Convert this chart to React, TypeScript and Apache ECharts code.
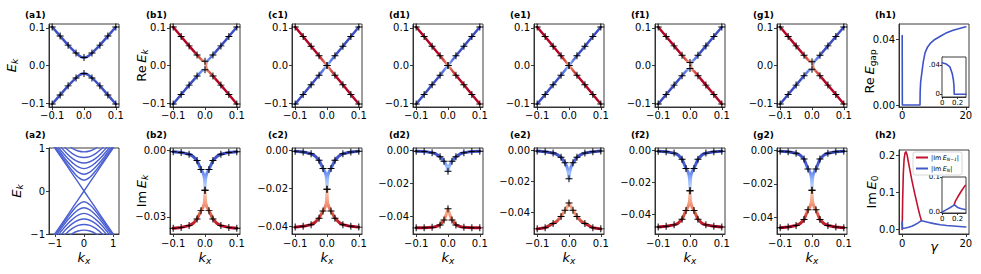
import React, { useEffect, useRef } from "react";
import * as echarts from "echarts";

// ---------------- data ----------------
const K1 = [-0.1, -0.075, -0.05, -0.025, -0.0125, -0.006, 0, 0.006, 0.0125, 0.025, 0.05, 0.075, 0.1];
const MK1 = [-0.1, -0.075, -0.05, -0.025, 0, 0.025, 0.05, 0.075, 0.1];

const A1_UP = [0.102, 0.078, 0.054, 0.033, 0.0245, 0.0218, 0.021, 0.0218, 0.0245, 0.033, 0.054, 0.078, 0.102];
const A1_DN = [-0.102, -0.078, -0.054, -0.033, -0.0245, -0.0218, -0.021, -0.0218, -0.0245, -0.033, -0.054, -0.078, -0.102];

const B1_RED = [0.102, 0.077, 0.052, 0.028, 0.0165, 0.0127, 0.011, -0.0127, -0.0165, -0.028, -0.052, -0.077, -0.102];
const B1_BLUE = [-0.102, -0.077, -0.052, -0.028, -0.0165, -0.0127, -0.011, 0.0127, 0.0165, 0.028, 0.052, 0.077, 0.102];
const C1_RED = [0.102, 0.077, 0.051, 0.026, 0.013, 0.006, 0, -0.006, -0.013, -0.026, -0.051, -0.077, -0.102];
const C1_BLUE = [-0.102, -0.077, -0.051, -0.026, -0.013, -0.006, 0, 0.006, 0.013, 0.026, 0.051, 0.077, 0.102];
const D1_RED = [0.102, 0.077, 0.051, 0.026, 0.013, 0.006, 0, -0.006, -0.013, -0.026, -0.051, -0.077, -0.102];
const D1_BLUE = [-0.102, -0.077, -0.051, -0.026, -0.013, -0.006, 0, 0.006, 0.013, 0.026, 0.051, 0.077, 0.102];
const E1_RED = [0.102, 0.077, 0.051, 0.026, 0.013, 0.006, 0, -0.006, -0.013, -0.026, -0.051, -0.077, -0.102];
const E1_BLUE = [-0.102, -0.077, -0.051, -0.026, -0.013, -0.006, 0, 0.006, 0.013, 0.026, 0.051, 0.077, 0.102];
const F1_RED = [0.102, 0.077, 0.052, 0.027, 0.015, 0.0105, 0.008, -0.0105, -0.015, -0.027, -0.052, -0.077, -0.102];
const F1_BLUE = [-0.102, -0.077, -0.052, -0.027, -0.015, -0.0105, -0.008, 0.0105, 0.015, 0.027, 0.052, 0.077, 0.102];
const G1_RED = [0.102, 0.077, 0.052, 0.027, 0.0155, 0.0115, 0.01, -0.0115, -0.0155, -0.027, -0.052, -0.077, -0.102];
const G1_BLUE = [-0.102, -0.077, -0.052, -0.027, -0.0155, -0.0115, -0.01, 0.0115, 0.0155, 0.027, 0.052, 0.077, 0.102];

const K2 = [-0.1, -0.075, -0.05, -0.0375, -0.025, -0.0125, -0.006, -0.003, -0.0015, 0, 0.0015, 0.003, 0.006, 0.0125, 0.025, 0.0375, 0.05, 0.075, 0.1];
const MK2 = [-0.1, -0.075, -0.05, -0.025, -0.0125, 0, 0.0125, 0.025, 0.05, 0.075, 0.1];

const B2_BLUE = [-0.0005, -0.0008, -0.0016, -0.0026, -0.0045, -0.0085, -0.0102, -0.0118, -0.0133, -0.018, -0.0133, -0.0118, -0.0102, -0.0085, -0.0045, -0.0026, -0.0016, -0.0008, -0.0005];
const B2_RED = [-0.0352, -0.0348, -0.034, -0.033, -0.031, -0.0272, -0.0256, -0.024, -0.0226, -0.018, -0.0226, -0.024, -0.0256, -0.0272, -0.031, -0.033, -0.034, -0.0348, -0.0352];
const C2_BLUE = [-0.0005, -0.0009, -0.0018, -0.003, -0.0052, -0.0095, -0.0115, -0.0132, -0.015, -0.0204, -0.015, -0.0132, -0.0115, -0.0095, -0.0052, -0.003, -0.0018, -0.0009, -0.0005];
const C2_RED = [-0.0402, -0.0398, -0.0389, -0.0377, -0.0355, -0.0318, -0.0297, -0.028, -0.0262, -0.0204, -0.0262, -0.028, -0.0297, -0.0318, -0.0355, -0.0377, -0.0389, -0.0398, -0.0402];
const D2_BLUE = [-0.0005, -0.0007, -0.0014, -0.0022, -0.0039, -0.0066, -0.0088, -0.0103, -0.0113, -0.0126, -0.0113, -0.0103, -0.0088, -0.0066, -0.0039, -0.0022, -0.0014, -0.0007, -0.0005];
const D2_RED = [-0.0468, -0.0467, -0.0465, -0.046, -0.045, -0.042, -0.039, -0.037, -0.0361, -0.0352, -0.0361, -0.037, -0.039, -0.042, -0.045, -0.046, -0.0465, -0.0467, -0.0468];
const E2_BLUE = [-0.0005, -0.0009, -0.0017, -0.0027, -0.0045, -0.008, -0.011, -0.0135, -0.0155, -0.0183, -0.0155, -0.0135, -0.011, -0.008, -0.0045, -0.0027, -0.0017, -0.0009, -0.0005];
const E2_RED = [-0.0505, -0.0498, -0.047, -0.0455, -0.0425, -0.0385, -0.0362, -0.0351, -0.0345, -0.0338, -0.0345, -0.0351, -0.0362, -0.0385, -0.0425, -0.0455, -0.047, -0.0498, -0.0505];
const F2_BLUE = [-0.0005, -0.0008, -0.0017, -0.0028, -0.0055, -0.0113, -0.0135, -0.0158, -0.0178, -0.0252, -0.0178, -0.0158, -0.0135, -0.0113, -0.0055, -0.0028, -0.0017, -0.0008, -0.0005];
const F2_RED = [-0.0478, -0.0474, -0.0465, -0.0455, -0.043, -0.0375, -0.035, -0.033, -0.031, -0.0252, -0.031, -0.033, -0.035, -0.0375, -0.043, -0.0455, -0.0465, -0.0474, -0.0478];
const G2_BLUE = [-0.0005, -0.0008, -0.0017, -0.0028, -0.0052, -0.0112, -0.0132, -0.0152, -0.017, -0.0238, -0.017, -0.0152, -0.0132, -0.0112, -0.0052, -0.0028, -0.0017, -0.0008, -0.0005];
const G2_RED = [-0.0462, -0.0458, -0.0449, -0.0438, -0.0414, -0.0355, -0.0335, -0.0315, -0.0298, -0.0238, -0.0298, -0.0315, -0.0335, -0.0355, -0.0414, -0.0438, -0.0449, -0.0458, -0.0462];

const A2_K = [-1.2, -1, -0.8, -0.6, -0.4, -0.2, 0, 0.2, 0.4, 0.6, 0.8, 1, 1.2];
const A2_CONE_UP = [1.2, 1, 0.8, 0.6, 0.4, 0.2, 0, 0.2, 0.4, 0.6, 0.8, 1, 1.2];
const A2_CONE_DN = [-1.2, -1, -0.8, -0.6, -0.4, -0.2, 0, -0.2, -0.4, -0.6, -0.8, -1, -1.2];
const A2_BANDS_UP = [
  [1.23, 1.03, 0.84, 0.65, 0.47, 0.32, 0.25, 0.32, 0.47, 0.65, 0.84, 1.03, 1.23],
  [1.26, 1.07, 0.89, 0.71, 0.56, 0.44, 0.39, 0.44, 0.56, 0.71, 0.89, 1.07, 1.26],
  [1.31, 1.13, 0.95, 0.79, 0.66, 0.56, 0.52, 0.56, 0.66, 0.79, 0.95, 1.13, 1.31],
  [1.37, 1.19, 1.03, 0.88, 0.76, 0.68, 0.65, 0.68, 0.76, 0.88, 1.03, 1.19, 1.37],
  [1.44, 1.27, 1.12, 0.98, 0.87, 0.8, 0.78, 0.8, 0.87, 0.98, 1.12, 1.27, 1.44],
  [1.5, 1.35, 1.21, 1.09, 0.99, 0.93, 0.91, 0.93, 0.99, 1.09, 1.21, 1.35, 1.5],
];
const A2_BANDS_DN = [
  [-1.23, -1.03, -0.84, -0.65, -0.47, -0.32, -0.25, -0.32, -0.47, -0.65, -0.84, -1.03, -1.23],
  [-1.26, -1.07, -0.89, -0.71, -0.56, -0.44, -0.39, -0.44, -0.56, -0.71, -0.89, -1.07, -1.26],
  [-1.31, -1.13, -0.95, -0.79, -0.66, -0.56, -0.52, -0.56, -0.66, -0.79, -0.95, -1.13, -1.31],
  [-1.37, -1.19, -1.03, -0.88, -0.76, -0.68, -0.65, -0.68, -0.76, -0.88, -1.03, -1.19, -1.37],
  [-1.44, -1.27, -1.12, -0.98, -0.87, -0.8, -0.78, -0.8, -0.87, -0.98, -1.12, -1.27, -1.44],
  [-1.5, -1.35, -1.21, -1.09, -0.99, -0.93, -0.91, -0.93, -0.99, -1.09, -1.21, -1.35, -1.5],
];

const H1_G = [0, 0.05, 5.6, 5.65, 5.8, 6.2, 6.6, 7.2, 8, 9, 10, 12, 14, 16, 18, 20];
const H1_V = [0.0424, 0, 0, 0.008, 0.014, 0.02, 0.026, 0.032, 0.0355, 0.038, 0.0397, 0.042, 0.0442, 0.0457, 0.0468, 0.0478];
const H1IN_G = [0, 0.05, 0.1, 0.13, 0.145, 0.153, 0.157, 0.31];
const H1IN_V = [0.043, 0.0415, 0.0375, 0.0285, 0.02, 0.012, 0, 0];
const H2_GR = [0, 0.15, 0.35, 0.6, 0.9, 1.2, 1.6, 2, 3, 4, 5, 5.6, 6];
const H2_RED = [0, 0.08, 0.15, 0.19, 0.207, 0.21, 0.2, 0.18, 0.135, 0.095, 0.058, 0.037, 0.026];
const H2_GB = [0, 0.1, 1, 2, 3, 4, 5, 6, 6.5, 8, 10, 12, 14, 17, 20];
const H2_BLUE = [0.021, 0.003, 0.004, 0.006, 0.009, 0.013, 0.018, 0.024, 0.023, 0.02, 0.016, 0.013, 0.011, 0.009, 0.007];
const H2IN_GR = [0.155, 0.17, 0.2, 0.25, 0.3];
const H2IN_RED = [0.02, 0.03, 0.042, 0.06, 0.076];
const H2IN_GB = [0, 0.05, 0.1, 0.15, 0.16, 0.2, 0.25, 0.3];
const H2IN_BLUE = [0, 0.006, 0.012, 0.019, 0.02, 0.013, 0.009, 0.007];

const TICKS_K = [-0.1, 0, 0.1];
const TICKS_A2 = [-1, 0, 1];
const TICKS_IM_B = [-0.03, 0];
const TICKS_IM = [-0.04, -0.02, 0];
const TICKS_H = [0, 20];
const TICKS_H1Y = [0, 0.04];
const TICKS_H2Y = [0, 0.1, 0.2];
const TICKS_IN_X = [0, 0.2];
const TICKS_H1IN_Y = [0, 0.04];
const TICKS_H2IN_Y = [0, 0.1];

const LABELS1 = ["(a1)", "(b1)", "(c1)", "(d1)", "(e1)", "(f1)", "(g1)", "(h1)"];
const LABELS2 = ["(a2)", "(b2)", "(c2)", "(d2)", "(e2)", "(f2)", "(g2)", "(h2)"];

// ---------------- styling ----------------
const FONT = "DejaVu Sans";
const AX = "#262626";
const COLS = [49, 170, 292, 413, 534, 655, 777, 899];
const PLUS = "path://M4.3,0H5.7V4.3H10V5.7H5.7V10H4.3V5.7H0V4.3H4.3Z";

const RICH_NAME = {
  r: { fontSize: 13, fontFamily: FONT, color: "#000", lineHeight: 16 },
  i: { fontSize: 13, fontFamily: FONT, fontStyle: "italic", color: "#000", lineHeight: 16 },
  s: { fontSize: 9, fontFamily: FONT, fontStyle: "italic", color: "#000", lineHeight: 7, verticalAlign: "bottom" },
  u: { fontSize: 9, fontFamily: FONT, color: "#000", lineHeight: 7, verticalAlign: "bottom" },
  w: { fontSize: 9, fontFamily: FONT, color: "rgba(0,0,0,0)", width: 12, lineHeight: 7 },
};

const fmt = (d: number) => (v: number) => v.toFixed(d).replace("-", "\u2212");

function valAxis(gi: number, min: number, max: number, ticks: number[], formatter: any, o: any = {}) {
  return {
    type: "value",
    gridIndex: gi,
    min,
    max,
    axisLine: { show: true, onZero: false, lineStyle: { color: AX, width: 0.9 } },
    axisTick: { show: true, inside: false, length: o.tickLen ?? 3, customValues: ticks, lineStyle: { color: AX, width: 0.9 } },
    axisLabel: {
      show: true,
      customValues: ticks,
      formatter,
      fontSize: o.fontSize ?? 10,
      fontFamily: FONT,
      color: "#000",
      margin: o.margin ?? 4,
      hideOverlap: false,
    },
    splitLine: { show: false },
    name: o.name ?? "",
    nameLocation: "middle",
    nameGap: o.nameGap ?? 10,
    nameRotate: o.nameRotate,
    nameMoveOverlap: false,
    nameTextStyle: { rich: RICH_NAME, fontFamily: FONT, fontSize: 13, color: "#000" },
  };
}

const pairs = (xs: number[], ys: number[]) => xs.map((x, i) => [x, ys[i]]);

function grad(vertical: boolean, stops: [number, string][]) {
  return {
    type: "linear",
    x: 0,
    y: 0,
    x2: vertical ? 0 : 1,
    y2: vertical ? 1 : 0,
    colorStops: stops.map(([offset, color]) => ({ offset, color })),
  };
}

function row1Grad(red: boolean, w: number) {
  const dark = red ? "#b40426" : "#3b4cc0";
  const mid = red ? "#d95847" : "#6282ea";
  const light = red ? "#f5a688" : "#a5c3fe";
  return grad(false, [
    [0, dark],
    [0.5 - w - 0.05, dark],
    [0.5 - w * 0.55, mid],
    [0.5, light],
    [0.5 + w * 0.55, mid],
    [0.5 + w + 0.05, dark],
    [1, dark],
  ]);
}

function row2Grad(red: boolean, tip: string) {
  if (red)
    return grad(true, [
      [0, tip],
      [0.3, "#f6a385"],
      [0.55, "#e57058"],
      [0.78, "#c63633"],
      [1, "#b40426"],
    ]);
  return grad(true, [
    [0, "#3b4cc0"],
    [0.3, "#4459cc"],
    [0.52, "#6384eb"],
    [0.76, "#9ebeff"],
    [1, tip],
  ]);
}

function line(gi: number, data: any[], color: any, width: number, smooth: any = false, extra: any = {}) {
  return {
    type: "line",
    xAxisIndex: gi,
    yAxisIndex: gi,
    data,
    showSymbol: false,
    symbol: "none",
    smooth,
    lineStyle: { color, width, cap: "round", join: "round" },
    itemStyle: { color: typeof color === "string" ? color : "#000" },
    silent: true,
    z: 2,
    ...extra,
  };
}

function markers(gi: number, data: any[]) {
  return {
    type: "scatter",
    xAxisIndex: gi,
    yAxisIndex: gi,
    data,
    symbol: PLUS,
    symbolSize: 7,
    itemStyle: { color: "#000", opacity: 1 },
    silent: true,
    z: 5,
  };
}

function pick(ks: number[], K: number[], vals: number[]) {
  return ks.map((k) => [k, vals[K.indexOf(k)]]);
}

function buildOption() {
  const grids: any[] = [];
  const xAxes: any[] = [];
  const yAxes: any[] = [];
  const series: any[] = [];

  const addGrid = (left: number, top: number, width: number, height: number, extra: any = {}) => {
    grids.push({
      left,
      top,
      width,
      height,
      show: true,
      borderColor: AX,
      borderWidth: 0.9,
      backgroundColor: "#fff",
      containLabel: false,
      outerBoundsMode: "none",
      ...extra,
    });
    return grids.length - 1;
  };

  const T1 = 24, H1 = 83, T2 = 148, H2 = 86, W = 70;
  const yName1 = "{i|E}{s|k}";
  const kxName = "{i|k}{s|x}";

  // ---- row 1 ----
  let g = addGrid(COLS[0], T1, W, H1);
  xAxes.push(valAxis(g, -0.11, 0.11, TICKS_K, fmt(1), { margin: 3 }));
  yAxes.push(valAxis(g, -0.11, 0.11, TICKS_K, fmt(1), { name: yName1, nameGap: 30, nameRotate: 90 }));
  series.push(line(g, pairs(K1, A1_UP), "#3d50c3", 2.5, 0.3));
  series.push(line(g, pairs(K1, A1_DN), "#3d50c3", 2.5, 0.3));
  series.push(markers(g, [...pick(MK1, K1, A1_UP), ...pick(MK1, K1, A1_DN)]));

  const row1 = [
    { red: B1_RED, blue: B1_BLUE, w: 0.13 },
    { red: C1_RED, blue: C1_BLUE, w: 0.1 },
    { red: D1_RED, blue: D1_BLUE, w: 0.1 },
    { red: E1_RED, blue: E1_BLUE, w: 0.1 },
    { red: F1_RED, blue: F1_BLUE, w: 0.12 },
    { red: G1_RED, blue: G1_BLUE, w: 0.12 },
  ];
  row1.forEach((p, i) => {
    const gi = addGrid(COLS[i + 1], T1, W, H1);
    xAxes.push(valAxis(gi, -0.11, 0.11, TICKS_K, fmt(1), { margin: 3 }));
    yAxes.push(
      valAxis(gi, -0.11, 0.11, TICKS_K, fmt(1), i === 0 ? { name: "{r|Re\u2009}{i|E}{s|k}", nameGap: 21, nameRotate: 90 } : {})
    );
    series.push(line(gi, pairs(K1, p.blue), row1Grad(false, p.w), 2.5));
    series.push(line(gi, pairs(K1, p.red), row1Grad(true, p.w), 2.5));
    series.push(markers(gi, [...pick(MK1, K1, p.red), ...pick(MK1, K1, p.blue)]));
  });

  // h1
  g = addGrid(COLS[7], T1, W, H1);
  xAxes.push(valAxis(g, -1, 21, TICKS_H, (v: number) => String(v), { margin: 3 }));
  yAxes.push(
    valAxis(g, -0.0012, 0.0495, TICKS_H1Y, fmt(2), { name: "{r|Re\u2009}{i|E}{u|gap}{w| }", nameGap: 22, nameRotate: 90 })
  );
  series.push(line(g, pairs(H1_G, H1_V), "#3f52c6", 1.6));

  // h1 inset
  g = addGrid(942, 57, 24, 40, { z: 4 });
  xAxes.push(valAxis(g, -0.003, 0.31, TICKS_IN_X, (v: number) => (v === 0 ? "0" : "0.2"), { fontSize: 7, margin: 2, tickLen: 2 }));
  yAxes.push(valAxis(g, -0.0037, 0.051, TICKS_H1IN_Y, (v: number) => (v === 0 ? "0" : ".04"), { fontSize: 7, margin: 2, tickLen: 2 }));
  series.push(line(g, pairs(H1IN_G, H1IN_V), "#3f52c6", 1.6, false, { z: 6 }));

  // ---- row 2 ----
  g = addGrid(COLS[0], T2, W, H2);
  xAxes.push(valAxis(g, -1.2, 1.2, TICKS_A2, fmt(0), { name: kxName, nameGap: 15 }));
  yAxes.push(valAxis(g, -1, 1, TICKS_A2, fmt(0), { name: yName1, nameGap: 25, nameRotate: 90 }));
  const bandColor = "#4a5fd1";
  series.push(line(g, pairs(A2_K, A2_CONE_UP), bandColor, 1.4));
  series.push(line(g, pairs(A2_K, A2_CONE_DN), bandColor, 1.4));
  A2_BANDS_UP.forEach((b) => series.push(line(g, pairs(A2_K, b), bandColor, 1.4, 0.4)));
  A2_BANDS_DN.forEach((b) => series.push(line(g, pairs(A2_K, b), bandColor, 1.4, 0.4)));

  const EP_BLUE_TIP = "#d3dbe8";
  const EP_RED_TIP = "#f2cbb8";
  const row2 = [
    { red: B2_RED, blue: B2_BLUE, min: -0.0378, max: 0.0012, ticks: TICKS_IM_B, bt: EP_BLUE_TIP, rt: EP_RED_TIP },
    { red: C2_RED, blue: C2_BLUE, min: -0.0438, max: 0.0012, ticks: TICKS_IM, bt: EP_BLUE_TIP, rt: EP_RED_TIP },
    { red: D2_RED, blue: D2_BLUE, min: -0.0505, max: 0.0014, ticks: TICKS_IM, bt: "#8fb1fe", rt: "#f4987a" },
    { red: E2_RED, blue: E2_BLUE, min: -0.0538, max: 0.0015, ticks: TICKS_IM, bt: "#9fbfff", rt: "#f5a384" },
    { red: F2_RED, blue: F2_BLUE, min: -0.0522, max: 0.0015, ticks: TICKS_IM, bt: EP_BLUE_TIP, rt: EP_RED_TIP },
    { red: G2_RED, blue: G2_BLUE, min: -0.05, max: 0.0014, ticks: TICKS_IM, bt: EP_BLUE_TIP, rt: EP_RED_TIP },
  ];
  row2.forEach((p, i) => {
    const gi = addGrid(COLS[i + 1], T2, W, H2);
    xAxes.push(valAxis(gi, -0.11, 0.11, TICKS_K, fmt(1), { name: kxName, nameGap: 15 }));
    yAxes.push(
      valAxis(gi, p.min, p.max, p.ticks, fmt(2), i === 0 ? { name: "{r|Im\u2009}{i|E}{s|k}", nameGap: 21, nameRotate: 90 } : {})
    );
    series.push(line(gi, pairs(K2, p.blue), row2Grad(false, p.bt), 3));
    series.push(line(gi, pairs(K2, p.red), row2Grad(true, p.rt), 3));
    series.push(markers(gi, [...pick(MK2, K2, p.blue), ...pick(MK2, K2, p.red)]));
  });

  // h2
  g = addGrid(COLS[7], T2 + 2, W, H2 - 2);
  xAxes.push(valAxis(g, -1, 21, TICKS_H, (v: number) => String(v), { name: "{i|\u03b3}", nameGap: 4 }));
  yAxes.push(valAxis(g, -0.012, 0.215, TICKS_H2Y, fmt(1), { name: "{r|Im\u2009}{i|E}{u|0}", nameGap: 20, nameRotate: 90 }));
  series.push(line(g, pairs(H2_GR, H2_RED), "#c0122f", 1.6, false, { name: "N1" }));
  series.push(line(g, pairs(H2_GB, H2_BLUE), "#4257c9", 1.6, false, { name: "N0" }));

  // h2 inset
  g = addGrid(942, 177, 24, 36, { z: 4 });
  xAxes.push(valAxis(g, -0.003, 0.31, TICKS_IN_X, (v: number) => (v === 0 ? "0" : "0.2"), { fontSize: 7, margin: 2, tickLen: 2 }));
  yAxes.push(valAxis(g, -0.003, 0.1, TICKS_H2IN_Y, fmt(1), { fontSize: 7, margin: 2, tickLen: 2 }));
  series.push(line(g, pairs(H2IN_GR, H2IN_RED), "#c0122f", 1.6, false, { z: 6 }));
  series.push(line(g, pairs(H2IN_GB, H2IN_BLUE), "#4257c9", 1.6, false, { z: 6 }));

  const graphic: any[] = [];
  LABELS1.forEach((t, i) =>
    graphic.push({ type: "text", left: COLS[i] - 24, top: 10, style: { text: t, fontSize: 9, fontWeight: "bold", fontFamily: FONT, fill: "#000" } })
  );
  LABELS2.forEach((t, i) =>
    graphic.push({ type: "text", left: COLS[i] - 24, top: 130, style: { text: t, fontSize: 9, fontWeight: "bold", fontFamily: FONT, fill: "#000" } })
  );

  const legendRich = {
    t: { fontSize: 6.5, fontFamily: FONT, color: "#000", lineHeight: 9 },
    ti: { fontSize: 6.5, fontFamily: FONT, fontStyle: "italic", color: "#000", lineHeight: 9 },
    ts: { fontSize: 4.5, fontFamily: FONT, fontStyle: "italic", color: "#000", lineHeight: 4, verticalAlign: "bottom" },
  };

  return {
    animation: false,
    backgroundColor: "#fff",
    grid: grids,
    xAxis: xAxes,
    yAxis: yAxes,
    series,
    graphic,
    legend: {
      data: ["N1", "N0"],
      left: 913,
      top: 152,
      orient: "vertical",
      icon: "rect",
      itemWidth: 12,
      itemHeight: 2,
      itemGap: 3,
      padding: [2, 3, 2, 3],
      borderColor: "#cccccc",
      borderWidth: 0.8,
      borderRadius: 2,
      backgroundColor: "#fff",
      selectedMode: false,
      textStyle: { fontSize: 6.5, fontFamily: FONT, color: "#000", rich: legendRich, padding: [0, 0, 0, -2] },
      formatter: (n: string) => (n === "N1" ? "{t||Im\u2009}{ti|E}{ts|N\u22121}{t||}" : "{t||Im\u2009}{ti|E}{ts|N}{t||}"),
      z: 8,
    },
  };
}

export default function App() {
  const ref = useRef<HTMLDivElement>(null);
  useEffect(() => {
    const chart = echarts.init(ref.current as HTMLDivElement, null, { renderer: "svg" });
    chart.setOption(buildOption() as any);
    return () => chart.dispose();
  }, []);
  return (
    <div
      ref={ref}
      style={{ position: "fixed", left: 0, top: 0, width: 981, height: 274, background: "#fff" }}
    />
  );
}
